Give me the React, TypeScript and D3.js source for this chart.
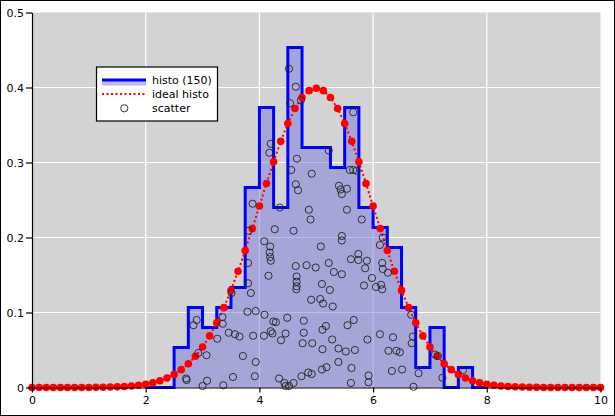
import React, { useEffect, useRef } from 'react';
import * as d3 from 'd3';

// histogram bins (width 0.25) and counts out of 150 samples
const BIN_EDGES = [
  2.0, 2.25, 2.5, 2.75, 3.0, 3.25, 3.5, 3.75, 4.0, 4.25, 4.5, 4.75, 5.0,
  5.25, 5.5, 5.75, 6.0, 6.25, 6.5, 6.75, 7.0, 7.25, 7.5, 7.75, 8.0,
];
const HISTO_COUNTS = [
  0, 0, 2, 4, 3, 4, 5, 10, 14, 9, 17, 12, 12, 11, 14, 9, 8, 7, 4, 1, 3, 0, 1, 0,
];
const N_SAMPLES = 150;

// ideal histo points
const IDEAL_X = [
  0, 0.125, 0.25, 0.375, 0.5, 0.625, 0.75, 0.875, 1, 1.125, 1.25, 1.375, 1.5,
  1.625, 1.75, 1.875, 2, 2.125, 2.25, 2.375, 2.5, 2.625, 2.75, 2.875, 3, 3.125,
  3.25, 3.375, 3.5, 3.625, 3.75, 3.875, 4, 4.125, 4.25, 4.375, 4.5, 4.625, 4.75,
  4.875, 5, 5.125, 5.25, 5.375, 5.5, 5.625, 5.75, 5.875, 6, 6.125, 6.25, 6.375,
  6.5, 6.625, 6.75, 6.875, 7, 7.125, 7.25, 7.375, 7.5, 7.625, 7.75, 7.875, 8,
  8.125, 8.25, 8.375, 8.5, 8.625, 8.75, 8.875, 9, 9.125, 9.25, 9.375, 9.5,
  9.625, 9.75, 9.875, 10,
];
const IDEAL_Y = [
  0.0, 0.0, 0.0, 0.0, 0.0, 0.0, 0.0001, 0.0001, 0.0001, 0.0002, 0.0004, 0.0006,
  0.0009, 0.0013, 0.002, 0.003, 0.0044, 0.0064, 0.0091, 0.0127, 0.0175, 0.0238,
  0.0317, 0.0417, 0.054, 0.0688, 0.0863, 0.1065, 0.1295, 0.155, 0.1826, 0.2119,
  0.242, 0.2721, 0.3011, 0.3282, 0.3521, 0.3719, 0.3867, 0.3958, 0.3989,
  0.3958, 0.3867, 0.3719, 0.3521, 0.3282, 0.3011, 0.2721, 0.242, 0.2119,
  0.1826, 0.155, 0.1295, 0.1065, 0.0863, 0.0688, 0.054, 0.0417, 0.0317, 0.0238,
  0.0175, 0.0127, 0.0091, 0.0064, 0.0044, 0.003, 0.002, 0.0013, 0.0009, 0.0006,
  0.0004, 0.0002, 0.0001, 0.0001, 0.0001, 0.0, 0.0, 0.0, 0.0, 0.0, 0.0,
];

// scatter samples
const SCATTER_X = [
  4.2, 4.175, 3.88,
  4.52, 4.64, 4.54, 4.73, 5.65, 5.22, 4.66, 4.56, 4.92, 4.64, 4.68, 5.59, 5.65,
  5.71, 5.4, 5.43, 5.54, 5.45, 4.36, 4.87, 5.54,
  3.805, 4.086, 4.19, 4.18, 4.19, 4.2, 3.8, 4.16, 3.8, 3.51, 3.85, 3.79, 3.935,
  4.09, 4.245, 2.897, 2.84, 3.35, 3.355, 3.46, 3.57, 3.65, 3.26, 3.89, 4.08,
  4.2, 4.23, 2.925, 3.07, 3.71, 3.935, 2.71, 2.72, 3.08, 3.0, 3.365, 3.535,
  3.92,
  4.9, 5.8, 4.27, 4.6, 5.45, 5.45, 5.08, 4.64, 4.83, 4.99, 5.22, 5.31, 5.45,
  5.61, 5.74, 5.74, 5.89, 5.86, 5.98, 5.84, 4.655, 4.655, 4.655, 4.65, 5.1,
  5.24, 4.91, 5.07, 5.12, 5.29, 4.29, 4.49, 4.78, 4.46, 4.38, 4.78, 4.76, 4.93,
  5.11, 5.17, 5.11, 5.55, 5.66, 5.28, 5.39, 5.52, 5.68, 5.9, 5.39, 5.62, 5.92,
  5.92, 5.61, 5.1, 5.18, 4.86, 4.92, 4.74, 4.6, 4.345, 4.44, 4.46, 4.52,
  6.17, 6.12, 6.16, 6.17, 6.26, 6.14, 6.16, 6.05, 6.67, 6.7, 6.68, 6.12, 6.35,
  6.27, 6.41, 6.47, 7.09, 7.14, 6.8, 6.33, 6.51, 7.22, 6.71, 7.58,
];
const SCATTER_Y = [
  0.325, 0.313, 0.245,
  0.425, 0.401, 0.379, 0.383, 0.367, 0.316, 0.305, 0.29, 0.285, 0.271, 0.263,
  0.29, 0.29, 0.289, 0.269, 0.264, 0.265, 0.258, 0.24, 0.237, 0.237,
  0.209, 0.195, 0.188, 0.18, 0.174, 0.169, 0.166, 0.149, 0.139, 0.126, 0.126,
  0.101, 0.102, 0.097, 0.088, 0.09, 0.083, 0.094, 0.085, 0.073, 0.071, 0.068,
  0.065, 0.069, 0.069, 0.075, 0.072, 0.046, 0.043, 0.042, 0.034, 0.012, 0.01,
  0.009, 0.002, 0.003, 0.014, 0.015,
  0.224, 0.224, 0.211, 0.209, 0.202, 0.196, 0.188, 0.162, 0.163, 0.16, 0.166,
  0.154, 0.151, 0.171, 0.178, 0.17, 0.169, 0.159, 0.146, 0.136, 0.148, 0.141,
  0.135, 0.131, 0.138, 0.13, 0.117, 0.118, 0.112, 0.108, 0.087, 0.093, 0.089,
  0.072, 0.063, 0.073, 0.059, 0.059, 0.051, 0.082, 0.077, 0.083, 0.09, 0.064,
  0.052, 0.048, 0.05, 0.064, 0.034, 0.026, 0.016, 0.007, 0.006, 0.024, 0.027,
  0.02, 0.018, 0.015, 0.006, 0.012, 0.006, 0.002, 0.002,
  0.2, 0.19, 0.166, 0.158, 0.153, 0.137, 0.131, 0.134, 0.097, 0.068, 0.059,
  0.071, 0.067, 0.049, 0.049, 0.047, 0.044, 0.042, 0.019, 0.022, 0.024, 0.013,
  0.001, 0.023,
];

const X_TICKS = [0, 2, 4, 6, 8, 10];
const Y_TICKS = [0, 0.1, 0.2, 0.3, 0.4, 0.5];

const LEGEND_LABELS = ['histo (150)', 'ideal histo', 'scatter'];

const App: React.FC = () => {
  const svgRef = useRef<SVGSVGElement | null>(null);

  useEffect(() => {
    if (!svgRef.current) return;
    const width = 615;
    const height = 416;
    const plot = { left: 32, right: 600.5, top: 12.5, bottom: 387.5 };
    const font = '"DejaVu Sans", sans-serif';

    const x = d3.scaleLinear().domain([0, 10]).range([plot.left, plot.right]);
    const y = d3.scaleLinear().domain([0, 0.5]).range([plot.bottom, plot.top]);

    const svg = d3.select(svgRef.current);
    svg.selectAll('*').remove();

    svg
      .append('rect')
      .attr('x', 0.5)
      .attr('y', 0.5)
      .attr('width', width - 1)
      .attr('height', height - 1)
      .attr('fill', 'white')
      .attr('stroke', 'black');

    // plot background
    svg
      .append('rect')
      .attr('x', plot.left)
      .attr('y', plot.top)
      .attr('width', plot.right - plot.left)
      .attr('height', plot.bottom - plot.top)
      .attr('fill', '#d3d3d3');

    // grid
    const grid = svg.append('g');
    grid
      .selectAll('line.gx')
      .data(X_TICKS.slice(1, -1))
      .enter()
      .append('line')
      .attr('x1', (d) => x(d))
      .attr('x2', (d) => x(d))
      .attr('y1', plot.top)
      .attr('y2', plot.bottom)
      .attr('stroke', 'white')
      .attr('stroke-width', 1.2);
    grid
      .selectAll('line.gy')
      .data(Y_TICKS.slice(1, -1))
      .enter()
      .append('line')
      .attr('x1', plot.left)
      .attr('x2', plot.right)
      .attr('y1', (d) => y(d))
      .attr('y2', (d) => y(d))
      .attr('stroke', 'white')
      .attr('stroke-width', 1.2);

    // histogram
    const binWidth = BIN_EDGES[1] - BIN_EDGES[0];
    const dens = HISTO_COUNTS.map((c) => c / (N_SAMPLES * binWidth));
    const steps = BIN_EDGES.map((e, i) => ({
      x: e,
      y: i < dens.length ? dens[i] : dens[dens.length - 1],
    }));

    svg
      .append('path')
      .datum(steps)
      .attr(
        'd',
        d3
          .area<{ x: number; y: number }>()
          .x((d) => x(d.x))
          .y0(y(0))
          .y1((d) => y(d.y))
          .curve(d3.curveStepAfter)
      )
      .attr('fill', 'rgb(120,120,222)')
      .attr('fill-opacity', 0.5);

    svg
      .append('path')
      .datum(steps)
      .attr(
        'd',
        d3
          .line<{ x: number; y: number }>()
          .x((d) => x(d.x))
          .y((d) => y(d.y))
          .curve(d3.curveStepAfter)
      )
      .attr('fill', 'none')
      .attr('stroke', '#0000ff')
      .attr('stroke-width', 3);

    // ideal histo
    const ideal = IDEAL_X.map((v, i) => ({ x: v, y: IDEAL_Y[i] }));
    svg
      .append('path')
      .datum(ideal)
      .attr(
        'd',
        d3
          .line<{ x: number; y: number }>()
          .x((d) => x(d.x))
          .y((d) => y(d.y))
      )
      .attr('fill', 'none')
      .attr('stroke', '#ff0000')
      .attr('stroke-width', 2)
      .attr('stroke-dasharray', '2,2.5');
    svg
      .append('g')
      .selectAll('circle')
      .data(ideal)
      .enter()
      .append('circle')
      .attr('cx', (d) => x(d.x))
      .attr('cy', (d) => y(d.y))
      .attr('r', 3.8)
      .attr('fill', '#ff0000');

    // scatter
    svg
      .append('g')
      .selectAll('circle')
      .data(SCATTER_X.map((v, i) => ({ x: v, y: SCATTER_Y[i] })))
      .enter()
      .append('circle')
      .attr('cx', (d) => x(d.x))
      .attr('cy', (d) => y(d.y))
      .attr('r', 3.6)
      .attr('fill', 'none')
      .attr('stroke', '#222')
      .attr('stroke-width', 0.9);

    // axes
    const xAxis = svg
      .append('g')
      .attr('transform', `translate(0,${plot.bottom})`)
      .call(
        d3
          .axisBottom(x)
          .tickValues(X_TICKS)
          .tickSize(5)
          .tickSizeOuter(0)
          .tickPadding(4)
          .tickFormat((d) => String(d))
      );
    const yAxis = svg
      .append('g')
      .attr('transform', `translate(${plot.left},0)`)
      .call(
        d3
          .axisLeft(y)
          .tickValues(Y_TICKS)
          .tickSize(6)
          .tickSizeOuter(0)
          .tickPadding(2)
          .tickFormat((d) => (d === 0 ? '0' : d3.format('.1f')(d as number)))
      );
    [xAxis, yAxis].forEach((ax) => {
      ax.selectAll('text')
        .attr('fill', 'black')
        .attr('font-family', font)
        .attr('font-size', '11px');
      ax.selectAll('line').attr('stroke', 'black').attr('stroke-width', 1.2);
      ax.select('.domain').attr('stroke', 'black').attr('stroke-width', 1.2);
    });

    // legend
    const lg = svg.append('g');
    lg.append('rect')
      .attr('x', 96.5)
      .attr('y', 67)
      .attr('width', 121)
      .attr('height', 54)
      .attr('fill', 'white')
      .attr('stroke', 'black')
      .attr('stroke-width', 1.2);
    lg.append('rect')
      .attr('x', 102)
      .attr('y', 79.5)
      .attr('width', 44)
      .attr('height', 6)
      .attr('fill', 'rgb(120,120,222)')
      .attr('fill-opacity', 0.5);
    lg.append('line')
      .attr('x1', 102)
      .attr('x2', 146)
      .attr('y1', 80)
      .attr('y2', 80)
      .attr('stroke', '#0000ff')
      .attr('stroke-width', 3);
    lg.append('line')
      .attr('x1', 102)
      .attr('x2', 146)
      .attr('y1', 94)
      .attr('y2', 94)
      .attr('stroke', '#ff0000')
      .attr('stroke-width', 2)
      .attr('stroke-dasharray', '2,2.5');
    lg.append('circle')
      .attr('cx', 124.3)
      .attr('cy', 108.3)
      .attr('r', 3.6)
      .attr('fill', 'none')
      .attr('stroke', '#222')
      .attr('stroke-width', 0.9);
    lg.selectAll('text')
      .data(LEGEND_LABELS)
      .enter()
      .append('text')
      .attr('x', 152)
      .attr('y', (_, i) => 84 + i * 14.2)
      .attr('font-family', font)
      .attr('font-size', '11px')
      .attr('fill', 'black')
      .text((d) => d);
  }, []);

  return (
    <svg
      ref={svgRef}
      width={615}
      height={416}
      style={{ position: 'absolute', left: 0, top: 0 }}
    />
  );
};

export default App;
